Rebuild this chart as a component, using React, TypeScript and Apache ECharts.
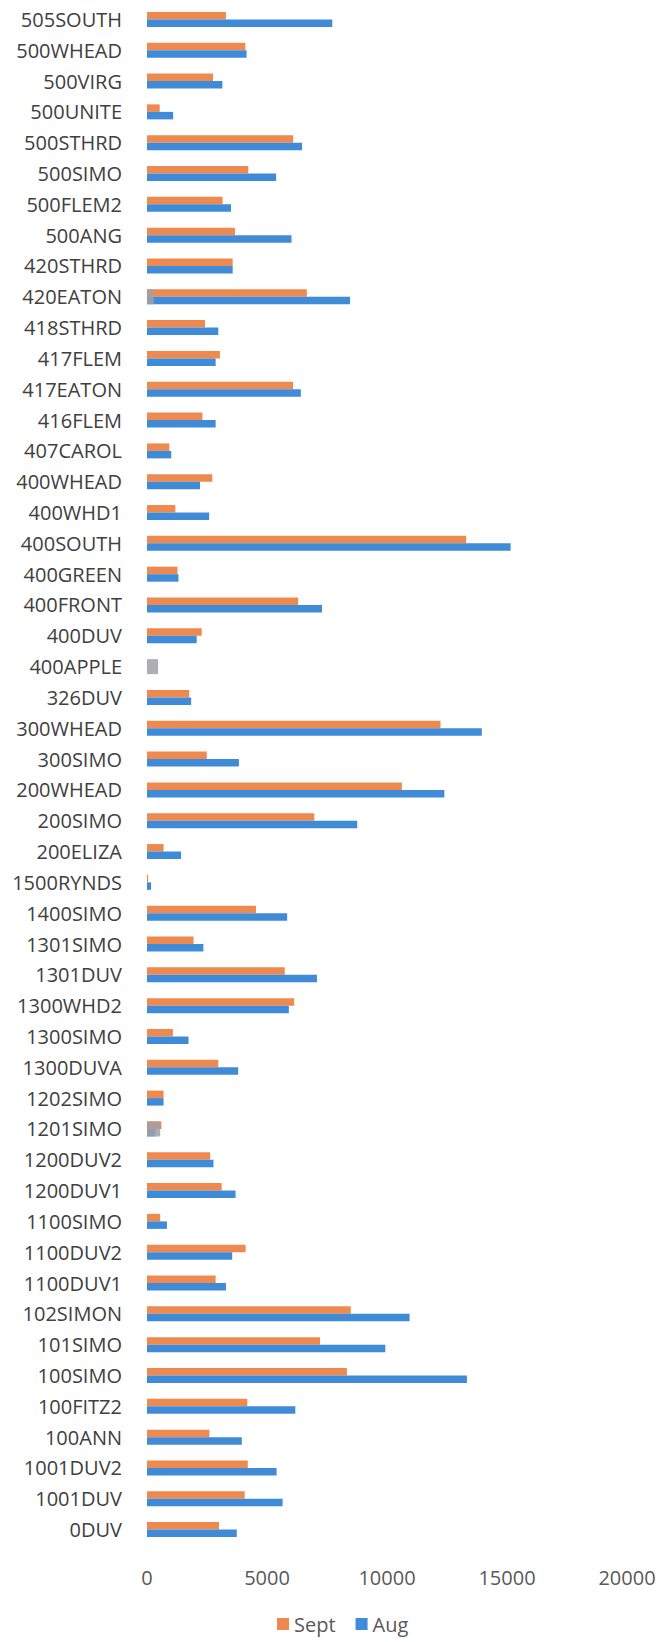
import React, { useEffect, useRef } from "react";
import * as echarts from "echarts";

const categories: string[] = [
  "505SOUTH", "500WHEAD", "500VIRG", "500UNITE", "500STHRD", "500SIMO", "500FLEM2", "500ANG",
  "420STHRD", "420EATON", "418STHRD", "417FLEM", "417EATON", "416FLEM", "407CAROL", "400WHEAD",
  "400WHD1", "400SOUTH", "400GREEN", "400FRONT", "400DUV", "400APPLE", "326DUV", "300WHEAD",
  "300SIMO", "200WHEAD", "200SIMO", "200ELIZA", "1500RYNDS", "1400SIMO", "1301SIMO", "1301DUV",
  "1300WHD2", "1300SIMO", "1300DUVA", "1202SIMO", "1201SIMO", "1200DUV2", "1200DUV1", "1100SIMO",
  "1100DUV2", "1100DUV1", "102SIMON", "101SIMO", "100SIMO", "100FITZ2", "100ANN", "1001DUV2",
  "1001DUV", "0DUV",
];

const sept: number[] = [
  3290, 4100, 2750, 530, 6090, 4220, 3150, 3670,
  3570, 6660, 2420, 3040, 6090, 2310, 930, 2720,
  1180, 13300, 1270, 6300, 2280, 0, 1760, 12230,
  2490, 10620, 6970, 690, 50, 4540, 1940, 5740,
  6130, 1080, 2970, 690, 600, 2630, 3110, 550,
  4110, 2860, 8490, 7210, 8330, 4180, 2600, 4200,
  4070, 3000,
];

const aug: number[] = [
  7720, 4150, 3140, 1090, 6460, 5380, 3500, 6020,
  3570, 8460, 2970, 2860, 6410, 2860, 1010, 2210,
  2590, 15150, 1310, 7290, 2070, 0, 1840, 13950,
  3830, 12390, 8760, 1420, 170, 5840, 2350, 7080,
  5910, 1730, 3800, 690, 350, 2770, 3690, 830,
  3550, 3290, 10940, 9930, 13330, 6180, 3950, 5400,
  5650, 3740,
];

const otherCats: string[] = ["420EATON", "400APPLE", "1201SIMO"];
const otherVals: number[] = [280, 460, 550];
const other: number[] = categories.map((c) => {
  const i = otherCats.indexOf(c);
  return i >= 0 ? otherVals[i] : 0;
});

const xTicks = { min: 0, max: 20000, interval: 5000 };
const legendNames: string[] = ["Sept", "Aug"];

export default function App() {
  const ref = useRef<HTMLDivElement>(null);
  useEffect(() => {
    if (!ref.current) return;
    const chart = echarts.init(ref.current, undefined, { renderer: "svg" });
    const font = "'Open Sans', 'Noto Sans', sans-serif";
    chart.setOption({
      animation: false,
      backgroundColor: "#ffffff",
      textStyle: { fontFamily: font },
      grid: { left: 147, right: 33, top: 4, bottom: 97 },
      legend: {
        data: legendNames,
        left: 277,
        top: 1612,
        padding: 0,
        icon: "rect",
        itemWidth: 12,
        itemHeight: 12,
        itemGap: 20,
        textStyle: { fontSize: 20, lineHeight: 24, color: "#595959", fontFamily: font },
      },
      xAxis: {
        type: "value",
        min: xTicks.min,
        max: xTicks.max,
        interval: xTicks.interval,
        axisLine: { show: false },
        axisTick: { show: false },
        splitLine: { show: false },
        axisLabel: {
          fontSize: 20,
          color: "#595959",
          margin: 22,
          fontFamily: font,
          formatter: (v: number) => String(v),
        },
      },
      yAxis: [
        {
          type: "category",
          data: categories,
          inverse: true,
          axisLine: { show: false },
          axisTick: { show: false },
          axisLabel: { fontSize: 20, color: "#404040", margin: 25, fontFamily: font },
        },
        {
          type: "category",
          data: categories,
          inverse: true,
          show: false,
        },
      ],
      series: [
        {
          name: "Sept",
          type: "bar",
          data: sept,
          yAxisIndex: 0,
          barWidth: 7.5,
          barGap: "0%",
          itemStyle: { color: "#EE8A4F" },
        },
        {
          name: "Aug",
          type: "bar",
          data: aug,
          yAxisIndex: 0,
          barWidth: 7.5,
          barGap: "0%",
          itemStyle: { color: "#3F8BD8" },
        },
        {
          name: "Other",
          type: "bar",
          data: other,
          yAxisIndex: 1,
          barWidth: 15,
          z: 5,
          itemStyle: { color: "#A39FA6", opacity: 0.85 },
        },
      ],
    });
    return () => chart.dispose();
  }, []);
  return (
    <div
      ref={ref}
      style={{ position: "absolute", left: 0, top: 0, width: 660, height: 1642 }}
    />
  );
}
